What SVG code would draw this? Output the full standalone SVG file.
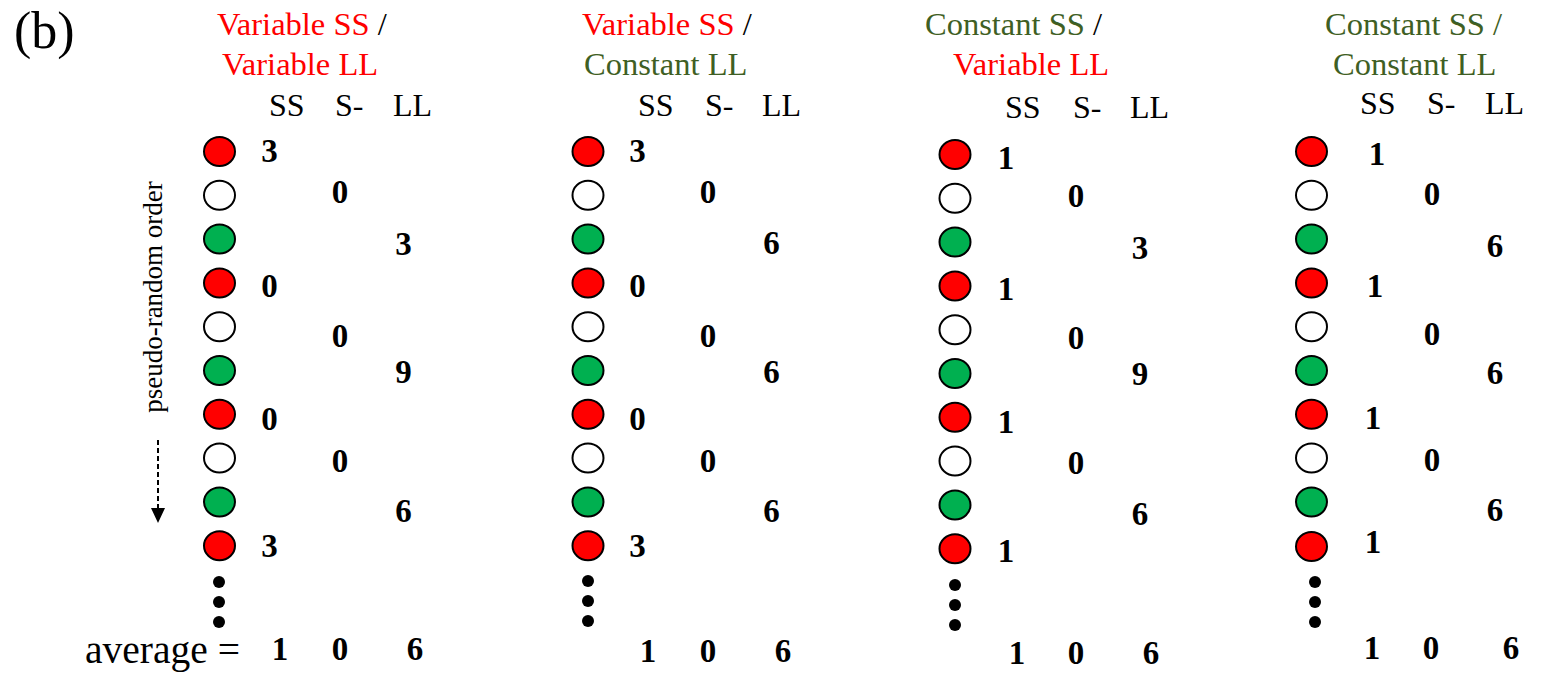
<svg xmlns="http://www.w3.org/2000/svg" width="1553" height="678" viewBox="0 0 1553 678">
  <style>
    text { font-family: "Liberation Serif", "Times New Roman", serif; fill: #000; }
    .ttl { font-size: 32.5px; }
    .hdr { font-size: 32px; }
    .num { font-size: 33px; font-weight: bold; text-anchor: middle; }
    .red { fill: #ff0000; }
    .dg { fill: #3f5f24; }
    ellipse { stroke: #000; stroke-width: 2; }
    .rf { fill: #ff0000; }
    .wf { fill: #ffffff; }
    .gf { fill: #00b050; }
    .dot { fill: #000; }
  </style>
  <rect width="1553" height="678" fill="#ffffff"/>

  <text x="14" y="48" font-size="52">(b)</text>
  <text x="85" y="663" font-size="39.5">average =</text>

  <!-- order label with its dashed arrow -->
  <g id="order-axis">
    <text transform="translate(162,297) rotate(-90)" font-size="27" text-anchor="middle">pseudo-random order</text>
  </g>
  <g id="connectors">
    <line x1="158" y1="440" x2="158" y2="509" stroke="#000" stroke-width="2" stroke-dasharray="5,3"/>
    <path d="M151,508 L165,508 L158,523 Z" fill="#000"/>
  </g>

  <!-- Panel 1: variable SS / variable LL -->
  <g id="panel-var-var">
    <text class="ttl" x="217" y="35"><tspan class="red">Variable SS</tspan> /</text>
    <text class="ttl red" x="222" y="75">Variable LL</text>
    <text class="hdr" x="269" y="116">SS</text>
    <text class="hdr" x="335" y="116">S-</text>
    <text class="hdr" x="393" y="116">LL</text>
    <ellipse class="rf" cx="219.5" cy="151.5" rx="15.5" ry="14.5"/>
    <ellipse class="wf" cx="219.5" cy="195.3" rx="15.5" ry="14.5"/>
    <ellipse class="gf" cx="219.5" cy="239.1" rx="15.5" ry="14.5"/>
    <ellipse class="rf" cx="219.5" cy="282.9" rx="15.5" ry="14.5"/>
    <ellipse class="wf" cx="219.5" cy="326.7" rx="15.5" ry="14.5"/>
    <ellipse class="gf" cx="219.5" cy="370.5" rx="15.5" ry="14.5"/>
    <ellipse class="rf" cx="219.5" cy="414.3" rx="15.5" ry="14.5"/>
    <ellipse class="wf" cx="219.5" cy="458.1" rx="15.5" ry="14.5"/>
    <ellipse class="gf" cx="219.5" cy="501.9" rx="15.5" ry="14.5"/>
    <ellipse class="rf" cx="219.5" cy="545.7" rx="15.5" ry="14.5"/>
    <circle class="dot" cx="219" cy="582" r="6"/>
    <circle class="dot" cx="219" cy="602" r="6"/>
    <circle class="dot" cx="219" cy="622" r="6"/>
    <text class="num" x="269.5" y="162">3</text>
    <text class="num" x="340" y="203">0</text>
    <text class="num" x="403.5" y="255">3</text>
    <text class="num" x="269.5" y="297">0</text>
    <text class="num" x="340" y="347">0</text>
    <text class="num" x="403.5" y="383">9</text>
    <text class="num" x="269.5" y="430">0</text>
    <text class="num" x="340" y="472">0</text>
    <text class="num" x="403.5" y="522">6</text>
    <text class="num" x="269.5" y="557">3</text>
    <text class="num" x="280" y="660">1</text>
    <text class="num" x="340" y="660">0</text>
    <text class="num" x="415" y="660">6</text>
  </g>

  <!-- Panel 2: variable SS / constant LL -->
  <g id="panel-var-const">
    <text class="ttl" x="582" y="35"><tspan class="red">Variable SS</tspan> /</text>
    <text class="ttl dg" x="584" y="75">Constant LL</text>
    <text class="hdr" x="638" y="116">SS</text>
    <text class="hdr" x="705" y="116">S-</text>
    <text class="hdr" x="762" y="116">LL</text>
    <ellipse class="rf" cx="588" cy="151.5" rx="15.5" ry="14.5"/>
    <ellipse class="wf" cx="588" cy="195.3" rx="15.5" ry="14.5"/>
    <ellipse class="gf" cx="588" cy="239.1" rx="15.5" ry="14.5"/>
    <ellipse class="rf" cx="588" cy="282.9" rx="15.5" ry="14.5"/>
    <ellipse class="wf" cx="588" cy="326.7" rx="15.5" ry="14.5"/>
    <ellipse class="gf" cx="588" cy="370.5" rx="15.5" ry="14.5"/>
    <ellipse class="rf" cx="588" cy="414.3" rx="15.5" ry="14.5"/>
    <ellipse class="wf" cx="588" cy="458.1" rx="15.5" ry="14.5"/>
    <ellipse class="gf" cx="588" cy="501.9" rx="15.5" ry="14.5"/>
    <ellipse class="rf" cx="588" cy="545.7" rx="15.5" ry="14.5"/>
    <circle class="dot" cx="588" cy="581" r="6"/>
    <circle class="dot" cx="588" cy="601" r="6"/>
    <circle class="dot" cx="588" cy="621" r="6"/>
    <text class="num" x="637.5" y="162">3</text>
    <text class="num" x="708" y="203">0</text>
    <text class="num" x="771.5" y="254">6</text>
    <text class="num" x="637.5" y="297">0</text>
    <text class="num" x="708" y="347">0</text>
    <text class="num" x="771.5" y="383">6</text>
    <text class="num" x="637.5" y="430">0</text>
    <text class="num" x="708" y="472">0</text>
    <text class="num" x="771.5" y="522">6</text>
    <text class="num" x="637.5" y="557">3</text>
    <text class="num" x="648" y="662">1</text>
    <text class="num" x="708" y="662">0</text>
    <text class="num" x="783" y="662">6</text>
  </g>

  <!-- Panel 3: constant SS / variable LL -->
  <g id="panel-const-var">
    <text class="ttl" x="925" y="35"><tspan class="dg">Constant SS</tspan> /</text>
    <text class="ttl red" x="953" y="75">Variable LL</text>
    <text class="hdr" x="1005" y="118">SS</text>
    <text class="hdr" x="1073" y="118">S-</text>
    <text class="hdr" x="1130" y="118">LL</text>
    <ellipse class="rf" cx="955" cy="154.5" rx="15.5" ry="14.5"/>
    <ellipse class="wf" cx="955" cy="198.3" rx="15.5" ry="14.5"/>
    <ellipse class="gf" cx="955" cy="242.1" rx="15.5" ry="14.5"/>
    <ellipse class="rf" cx="955" cy="285.9" rx="15.5" ry="14.5"/>
    <ellipse class="wf" cx="955" cy="329.7" rx="15.5" ry="14.5"/>
    <ellipse class="gf" cx="955" cy="373.5" rx="15.5" ry="14.5"/>
    <ellipse class="rf" cx="955" cy="417.3" rx="15.5" ry="14.5"/>
    <ellipse class="wf" cx="955" cy="461.1" rx="15.5" ry="14.5"/>
    <ellipse class="gf" cx="955" cy="504.9" rx="15.5" ry="14.5"/>
    <ellipse class="rf" cx="955" cy="548.7" rx="15.5" ry="14.5"/>
    <circle class="dot" cx="955" cy="585" r="6"/>
    <circle class="dot" cx="955" cy="605" r="6"/>
    <circle class="dot" cx="955" cy="625" r="6"/>
    <text class="num" x="1006" y="169">1</text>
    <text class="num" x="1076" y="207">0</text>
    <text class="num" x="1140" y="259">3</text>
    <text class="num" x="1006" y="300">1</text>
    <text class="num" x="1076" y="349">0</text>
    <text class="num" x="1140" y="385">9</text>
    <text class="num" x="1006" y="433">1</text>
    <text class="num" x="1076" y="474">0</text>
    <text class="num" x="1140" y="525">6</text>
    <text class="num" x="1006" y="562">1</text>
    <text class="num" x="1017" y="664">1</text>
    <text class="num" x="1076" y="664">0</text>
    <text class="num" x="1151" y="664">6</text>
  </g>

  <!-- Panel 4: constant SS / constant LL -->
  <g id="panel-const-const">
    <text class="ttl dg" x="1325" y="35">Constant SS /</text>
    <text class="ttl dg" x="1333" y="75">Constant LL</text>
    <text class="hdr" x="1360" y="114">SS</text>
    <text class="hdr" x="1427" y="114">S-</text>
    <text class="hdr" x="1485" y="114">LL</text>
    <ellipse class="rf" cx="1311.5" cy="151.5" rx="15.5" ry="14.5"/>
    <ellipse class="wf" cx="1311.5" cy="195.3" rx="15.5" ry="14.5"/>
    <ellipse class="gf" cx="1311.5" cy="239.1" rx="15.5" ry="14.5"/>
    <ellipse class="rf" cx="1311.5" cy="282.9" rx="15.5" ry="14.5"/>
    <ellipse class="wf" cx="1311.5" cy="326.7" rx="15.5" ry="14.5"/>
    <ellipse class="gf" cx="1311.5" cy="370.5" rx="15.5" ry="14.5"/>
    <ellipse class="rf" cx="1311.5" cy="414.3" rx="15.5" ry="14.5"/>
    <ellipse class="wf" cx="1311.5" cy="458.1" rx="15.5" ry="14.5"/>
    <ellipse class="gf" cx="1311.5" cy="501.9" rx="15.5" ry="14.5"/>
    <ellipse class="rf" cx="1311.5" cy="546.5" rx="15.5" ry="14.5"/>
    <circle class="dot" cx="1315" cy="582" r="6"/>
    <circle class="dot" cx="1315" cy="602" r="6"/>
    <circle class="dot" cx="1315" cy="622" r="6"/>
    <text class="num" x="1377" y="165">1</text>
    <text class="num" x="1432" y="205">0</text>
    <text class="num" x="1495" y="257">6</text>
    <text class="num" x="1375" y="297">1</text>
    <text class="num" x="1432" y="345">0</text>
    <text class="num" x="1495" y="384">6</text>
    <text class="num" x="1373" y="429">1</text>
    <text class="num" x="1432" y="471">0</text>
    <text class="num" x="1495" y="521">6</text>
    <text class="num" x="1373" y="553">1</text>
    <text class="num" x="1372" y="659">1</text>
    <text class="num" x="1431" y="659">0</text>
    <text class="num" x="1511" y="659">6</text>
  </g>
</svg>
